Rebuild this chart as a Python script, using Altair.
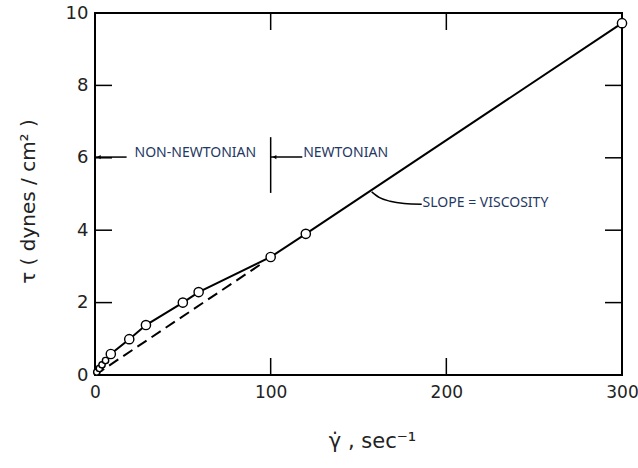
import altair as alt
import pandas as pd

# measured data points (shear rate, shear stress)
pt_x = [1, 2.5, 4, 6, 9, 19.5, 29, 50, 59, 100, 120, 300]
pt_y = [0.08, 0.18, 0.28, 0.40, 0.58, 0.99, 1.38, 2.0, 2.29, 3.26, 3.9, 9.72]
pt_grp = ["s", "s", "s", "s", "l", "l", "l", "l", "l", "l", "l", "l"]

# solid curve through the data
curve_x = [0, 1, 2.5, 4, 6, 9, 19.5, 29, 50, 59, 100, 120, 300]
curve_y = [0, 0.08, 0.18, 0.28, 0.40, 0.58, 0.99, 1.38, 2.0, 2.29, 3.26, 3.9, 9.72]

# dashed Newtonian extrapolation
dash_x = [0, 95]
dash_y = [0, 3.08]

# tick values
x_ticks = [100, 200]
y_ticks = [2, 4, 6, 8]
x_labels = [0, 100, 200, 300]
y_labels = [0, 2, 4, 6, 8, 10]

# annotations
lbl_text = ["NON-NEWTONIAN", "NEWTONIAN", "SLOPE = VISCOSITY"]
lbl_x = [22.5, 118.5, 186.5]
lbl_y = [6.12, 6.12, 4.75]
vline_x = [100]
vline_y = [5.03]
vline_y2 = [6.57]
lead_x = [157.5, 162, 168, 176, 186]
lead_y = [5.06, 4.9, 4.8, 4.74, 4.72]
arr_x = [0, 100]
arr_x2 = [18, 118]
arr_y = [6.02, 6.02]
head_x = [2.2, 102.2]

W, H = 527, 362
TL = 17
TXT = "#1f3864"

xs = alt.Scale(domain=[0, 300], nice=False, zero=False)
ys = alt.Scale(domain=[0, 10], nice=False, zero=False)

pts = pd.DataFrame({"x": pt_x, "y": pt_y, "g": pt_grp})
crv = pd.DataFrame({"x": curve_x, "y": curve_y})
dsh = pd.DataFrame({"x": dash_x, "y": dash_y})
xt = pd.DataFrame({"x": x_ticks})
yt = pd.DataFrame({"y": y_ticks})
lbl = pd.DataFrame({"t": lbl_text, "x": lbl_x, "y": lbl_y})
vln = pd.DataFrame({"x": vline_x, "y": vline_y, "y2": vline_y2})
lead = pd.DataFrame({"x": lead_x, "y": lead_y})
arr = pd.DataFrame({"x": arr_x, "x2": arr_x2, "y": arr_y})
heads = pd.DataFrame({"x": head_x, "y": arr_y})

x_axis = alt.Axis(
    values=x_labels, tickSize=0, domain=False, grid=False,
    labelFont="DejaVu Sans", labelFontSize=17, labelColor="#222",
    labelPadding=9, labelFlush=False,
    title="γ̇ , sec⁻¹", titleFont="DejaVu Sans", titleFontSize=21,
    titleFontWeight="normal", titleColor="#222",
    titleX=277, titleY=66, titleAlign="center", titleBaseline="middle",
)
y_axis = alt.Axis(
    values=y_labels, tickSize=0, domain=False, grid=False,
    labelFont="DejaVu Sans", labelFontSize=18, labelColor="#222",
    labelPadding=7, labelFlush=False,
    title="τ  ( dynes / cm² )", titleFont="DejaVu Sans", titleFontSize=20,
    titleFontWeight="normal", titleColor="#222",
    titleX=-67, titleY=188, titleAngle=-90, titleAlign="center", titleBaseline="middle",
)


def X(f="x:Q"):
    return alt.X(f, scale=xs, axis=x_axis)


def Y(f="y:Q"):
    return alt.Y(f, scale=ys, axis=y_axis)


line = alt.Chart(crv).mark_line(color="black", strokeWidth=2).encode(x=X(), y=Y())
dash = alt.Chart(dsh).mark_line(color="black", strokeWidth=2, strokeDash=[11, 6]).encode(x=X(), y=Y())
circles = alt.Chart(pts).mark_point(
    shape="circle", filled=True, fill="white", stroke="black", strokeWidth=1.4, opacity=1
).encode(
    x=X(), y=Y(),
    size=alt.Size("g:N", scale=alt.Scale(domain=["s", "l"], range=[40, 85]), legend=None),
)

tick_l = alt.Chart(yt).mark_rule(color="black", strokeWidth=1.5).encode(
    y=Y(), x=alt.value(0), x2=alt.value(TL))
tick_r = alt.Chart(yt).mark_rule(color="black", strokeWidth=1.5).encode(
    y=Y(), x=alt.value(W - TL), x2=alt.value(W))
tick_b = alt.Chart(xt).mark_rule(color="black", strokeWidth=1.5).encode(
    x=X(), y=alt.value(H), y2=alt.value(H - TL))
tick_t = alt.Chart(xt).mark_rule(color="black", strokeWidth=1.5).encode(
    x=X(), y=alt.value(0), y2=alt.value(TL))

vline = alt.Chart(vln).mark_rule(color="black", strokeWidth=1.5).encode(
    x=X(), y=Y(), y2="y2:Q")
arrows = alt.Chart(arr).mark_rule(color="black", strokeWidth=1.5).encode(
    x=X(), x2="x2:Q", y=Y())
arrowheads = alt.Chart(heads).mark_point(
    shape="triangle-left", filled=True, color="black", size=18, opacity=1).encode(x=X(), y=Y())
leader = alt.Chart(lead).mark_line(color="black", strokeWidth=1.5, interpolate="monotone").encode(
    x=X(), y=Y())
texts = alt.Chart(lbl).mark_text(
    align="left", baseline="middle", font="Noto Sans", fontSize=14, color=TXT).encode(
    x=X(), y=Y(), text="t:N")

chart = alt.layer(
    line, tick_l, tick_r, tick_b, tick_t, dash, circles,
    vline, arrows, arrowheads, leader, texts,
).properties(
    width=W, height=H, autosize=alt.AutoSizeParams(type="none"),
    padding={"left": 95, "top": 13, "right": 16, "bottom": 93},
    background="white",
).configure_view(
    stroke="black", strokeWidth=2
)

chart.save("out.html", embed_options={"renderer": "svg", "actions": False})
